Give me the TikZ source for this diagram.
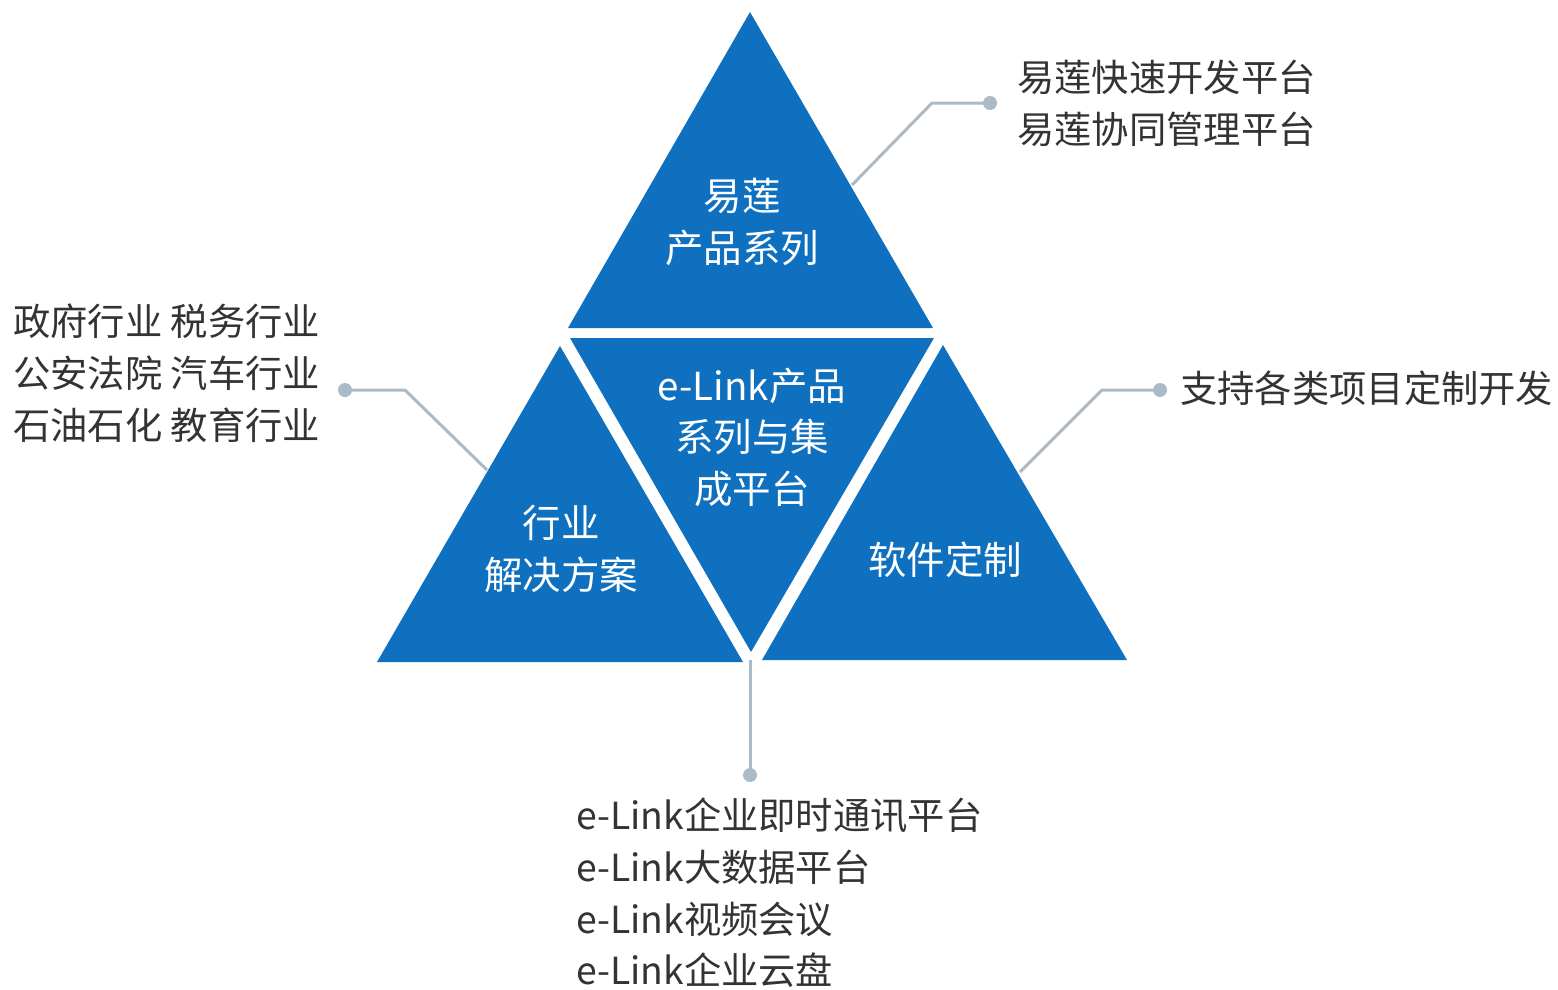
\documentclass[tikz,border=0pt]{standalone}
\usepackage{fontspec}
\setmainfont{Noto Sans CJK SC}
\definecolor{triblue}{RGB}{14,112,190}
\definecolor{linkgray}{RGB}{170,186,198}
\definecolor{txtgray}{RGB}{51,51,51}
\begin{document}
\begin{tikzpicture}[x=1pt,y=-1pt,
  tri/.style={fill=triblue},
  intext/.style={text=white,align=center,font=\fontsize{38.5}{51.5}\selectfont,inner sep=0pt},
  outtext/.style={text=txtgray,align=left,font=\fontsize{37.3}{51.7}\selectfont,inner sep=0pt},
  conn/.style={draw=linkgray,line width=3pt},
  dot/.style={circle,fill=linkgray,inner sep=0pt,minimum size=14pt}]
\useasboundingbox (0,0) rectangle (1558,989);
% triangles
\fill[tri] (750,12) -- (933,328) -- (568,328) -- cycle;
\fill[tri] (570,338) -- (934,338) -- (751,652) -- cycle;
\fill[tri] (560,346) -- (743,662) -- (377,662) -- cycle;
\fill[tri] (943,345) -- (1127,660) -- (762,660) -- cycle;
% texts in triangles
\node[intext] (tTop) at (742,222) {易莲\\产品系列};
\node[intext] (tMid) at (752,437) {e-Link产品\\系列与集\\成平台};
\node[intext] (tLeft) at (561,549) {行业\\解决方案};
\node[intext] (tRight) at (945,560) {软件定制};
% dots
\node[dot] (dTop) at (990,103) {};
\node[dot] (dLeft) at (345,390) {};
\node[dot] (dRight) at (1160,390) {};
\node[dot] (dBot) at (750,775) {};
% connector anchors
\coordinate (eTop) at (852,185);
\coordinate (kTop) at (932,103);
\coordinate (eLeft) at (487,470);
\coordinate (kLeft) at (405,390);
\coordinate (eRight) at (1020,472);
\coordinate (kRight) at (1102,390);
\coordinate (eBot) at (750,660);
\draw[conn] (eTop) -- (kTop) -- (dTop.center);
\draw[conn] (eLeft) -- (kLeft) -- (dLeft.center);
\draw[conn] (eRight) -- (kRight) -- (dRight.center);
\draw[conn] (eBot) -- (dBot.center);
% outer texts
\node[outtext,anchor=west] (lTop) at (1017,103) {易莲快速开发平台\\易莲协同管理平台};
\node[outtext,anchor=west] (lLeft) at (13,373) {政府行业 税务行业\\公安法院 汽车行业\\石油石化 教育行业};
\node[outtext,anchor=west] (lRight) at (1180,388) {支持各类项目定制开发};
\node[outtext,anchor=west] (lBot) at (576,893) {e-Link企业即时通讯平台\\e-Link大数据平台\\e-Link视频会议\\e-Link企业云盘};
\end{tikzpicture}
\end{document}
